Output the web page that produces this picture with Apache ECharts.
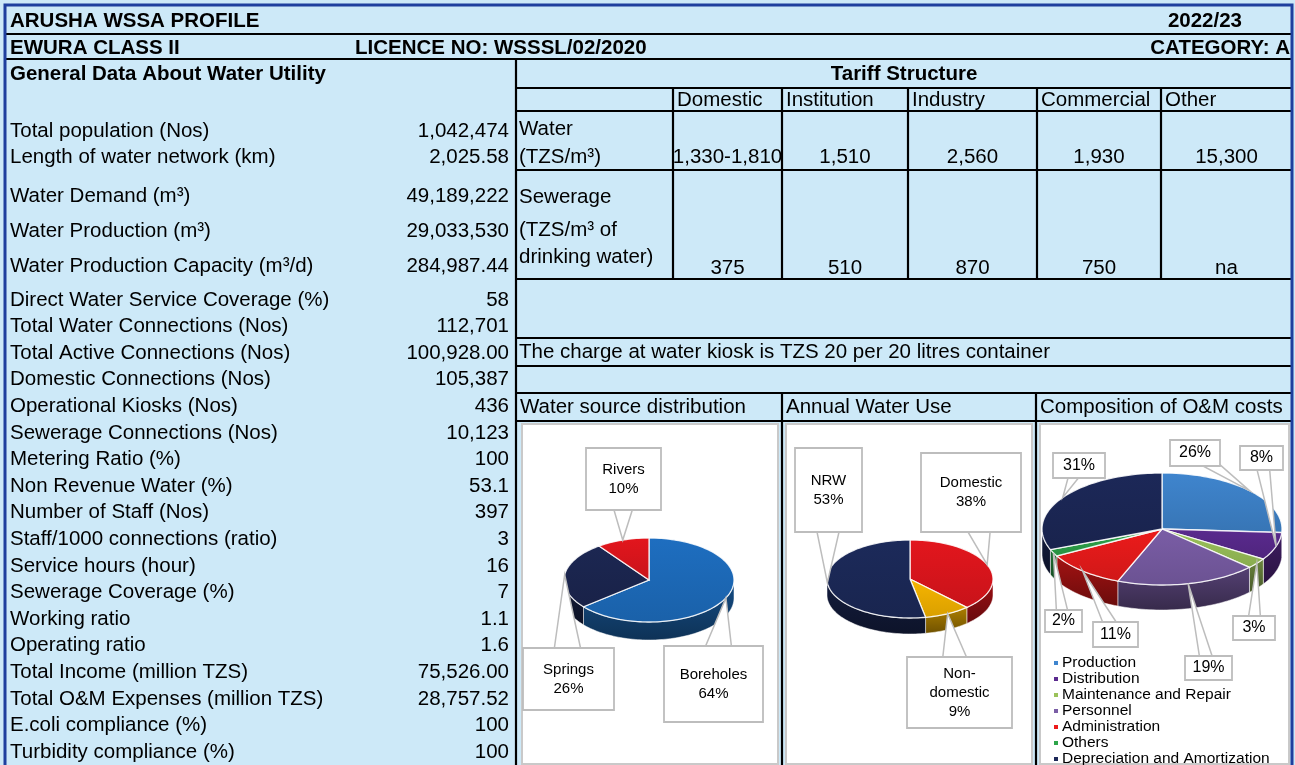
<!DOCTYPE html>
<html>
<head>
<meta charset="utf-8">
<script src="https://cdn.jsdelivr.net/npm/echarts@6/dist/echarts.min.js"></script>
<style>
  html, body { margin: 0; padding: 0; background: #cde9f8; }
  #chart { width: 1295px; height: 765px; }
</style>
</head>
<body>
<div id="chart"></div>
<script>
// ---- data read from the sheet ----
const generalLabels = [
  'Total population (Nos)', 'Length of water network (km)', 'Water Demand (m³)',
  'Water Production (m³)', 'Water Production Capacity (m³/d)', 'Direct Water Service Coverage (%)',
  'Total Water Connections (Nos)', 'Total Active Connections (Nos)', 'Domestic Connections (Nos)',
  'Operational Kiosks (Nos)', 'Sewerage Connections (Nos)', 'Metering Ratio (%)',
  'Non Revenue Water (%)', 'Number of Staff (Nos)', 'Staff/1000 connections (ratio)',
  'Service hours (hour)', 'Sewerage Coverage (%)', 'Working ratio', 'Operating ratio',
  'Total Income (million TZS)', 'Total O&M Expenses (million TZS)', 'E.coli compliance (%)',
  'Turbidity compliance (%)'
]
const generalValues = [
  '1,042,474', '2,025.58', '49,189,222', '29,033,530', '284,987.44', '58', '112,701',
  '100,928.00', '105,387', '436', '10,123', '100', '53.1', '397', '3', '16', '7', '1.1',
  '1.6', '75,526.00', '28,757.52', '100', '100'
]
const tariffCats = ['Domestic', 'Institution', 'Industry', 'Commercial', 'Other']
const waterTariff = ['1,330-1,810', '1,510', '2,560', '1,930', '15,300']
const sewerTariff = ['375', '510', '870', '750', 'na']

const sourceNames = ['Boreholes', 'Springs', 'Rivers']
const sourceShare = [64, 26, 10]
const useNames = ['Domestic', 'Non-\ndomestic', 'NRW']
const useShare = [38, 9, 53]
const costNames = ['Production', 'Distribution', 'Maintenance and Repair', 'Personnel',
  'Administration', 'Others', 'Depreciation and Amortization']
const costShare = [26, 8, 3, 19, 11, 2, 31]

// ---- layout ----
const FONT = '"Liberation Sans", Arial, sans-serif'
const F = 20.5
const rowY = [131, 157, 196, 231, 266]
for (let k = 0; k < 18; k++) rowY.push(300 + k * 26.6)
const colX = [673, 782, 908, 1037, 1161, 1292]

const els = []
function text(x, y, s, o) {
  o = o || {}
  els.push({
    type: 'text', x: x, y: y, z: 3,
    style: {
      text: s, fill: '#000',
      font: (o.bold ? 'bold ' : '') + (o.size || F) + 'px ' + FONT,
      align: o.align || 'left', textAlign: o.align || 'left',
      verticalAlign: 'middle', textVerticalAlign: 'middle'
    }
  })
}
function line(x1, y1, x2, y2, c, w) {
  els.push({ type: 'line', z: 2, shape: { x1, y1, x2, y2 }, style: { stroke: c || '#000', lineWidth: w || 2.2 } })
}

els.push({ type: 'rect', z: 0, shape: { x: 0, y: 0, width: 1295, height: 765 }, style: { fill: '#cde9f8' } })
// white pie panels
;[[522, 424, 256, 340], [786, 424, 246, 340], [1040, 424, 249, 340]].forEach(p => {
  els.push({ type: 'rect', z: 1, shape: { x: p[0], y: p[1], width: p[2], height: p[3] },
    style: { fill: '#fff', stroke: '#c9c9c9', lineWidth: 2 } })
})

// grid lines
line(5, 34, 1292, 34)
line(5, 59, 1292, 59)
line(516, 59, 516, 765)
;[88, 111, 170, 279, 338, 366, 393, 421].forEach(y => line(516, y, 1292, y))
colX.slice(0, 5).forEach(x => line(x, 88, x, 279))
line(782, 393, 782, 765)
line(1036, 393, 1036, 765)
// outer frame
els.push({ type: 'rect', z: 4, shape: { x: 5, y: 5, width: 1287, height: 800 },
  style: { fill: 'none', stroke: '#1f3f9e', lineWidth: 3 } })

// header
text(10, 21, 'ARUSHA WSSA PROFILE', { bold: true })
text(1242, 21, '2022/23', { bold: true, align: 'right' })
text(10, 48, 'EWURA CLASS II', { bold: true })
text(355, 48, 'LICENCE NO: WSSSL/02/2020', { bold: true })
text(1290, 48, 'CATEGORY: A', { bold: true, align: 'right' })
text(10, 74, 'General Data About Water Utility', { bold: true })
text(904, 74, 'Tariff Structure', { bold: true, align: 'center' })

// general data rows
generalLabels.forEach((s, i) => {
  text(10, rowY[i], s)
  text(509, rowY[i], generalValues[i], { align: 'right' })
})

// tariff table
tariffCats.forEach((s, i) => {
  const mid = (colX[i] + colX[i + 1]) / 2
  text(colX[i] + 4, 100, s)
  text(mid, 157, waterTariff[i], { align: 'center' })
  text(mid, 268, sewerTariff[i], { align: 'center' })
})
text(519, 129, 'Water')
text(519, 157, '(TZS/m³)')
text(519, 197, 'Sewerage')
text(519, 230, '(TZS/m³ of')
text(519, 257, 'drinking water)')
text(519, 352, 'The charge at water kiosk is TZS 20 per 20 litres container')
text(520, 407, 'Water source distribution')
text(786, 407, 'Annual Water Use')
text(1040, 407, 'Composition of O&M costs')

// ---- 3d-looking pies ----
function shade(hex, f) {
  const n = parseInt(hex.slice(1), 16)
  const r = Math.round(((n >> 16) & 255) * f), g = Math.round(((n >> 8) & 255) * f), b = Math.round((n & 255) * f)
  return 'rgb(' + r + ',' + g + ',' + b + ')'
}

function makePie(names, values, geo, colors, boxes, opts) {
  const total = values.reduce((a, b) => a + b, 0)
  const starts = []
  let acc = 0
  values.forEach(v => { starts.push(acc / total * Math.PI * 2); acc += v })
  const pt = (a, dy) => [geo.cx + geo.rx * Math.sin(a), geo.cy - geo.ry * Math.cos(a) + (dy || 0)]
  const arc = (a0, a1, dy) => {
    const n = Math.max(2, Math.ceil((a1 - a0) / 0.03))
    const r = []
    for (let k = 0; k <= n; k++) r.push(pt(a0 + (a1 - a0) * k / n, dy))
    return r
  }
  return {
    type: 'custom', coordinateSystem: 'none', z: 5, silent: true, animation: false,
    data: values.map((v, i) => ({ name: names[i], value: v })),
    renderItem(params, api) {
      const i = params.dataIndex
      const a0 = starts[i]
      const a1 = a0 + api.value(0) / total * Math.PI * 2
      const c = colors[i]
      const kids = []
      const s = Math.max(a0, Math.PI / 2), e = Math.min(a1, Math.PI * 1.5)
      if (e > s) {
        kids.push({
          type: 'polygon', z2: 1,
          shape: { points: arc(s, e, 0).concat(arc(s, e, geo.depth).reverse()) },
          style: {
            fill: { type: 'linear', x: 0, y: 0, x2: 0, y2: 1, colorStops: [
              { offset: 0, color: shade(c, 0.7) }, { offset: 1, color: shade(c, 0.45) }] },
            stroke: 'rgba(255,255,255,0.5)', lineWidth: 1
          }
        })
      }
      kids.push({
        type: 'polygon', z2: 5,
        shape: { points: [[geo.cx, geo.cy]].concat(arc(a0, a1, 0)) },
        style: {
          fill: { type: 'linear', x: 0, y: 0, x2: 0, y2: 1, colorStops: [
            { offset: 0, color: c }, { offset: 1, color: shade(c, 0.88) }] },
          stroke: 'rgba(255,255,255,0.85)', lineWidth: 1.3
        }
      })
      // callout box with wedge pointer
      const an = pt((a0 + a1) / 2, 0)
      const b = boxes[i]
      const bx = b[0] + b[2] / 2, by = b[1] + b[3] / 2
      const dx = an[0] - bx, dy = an[1] - by, len = Math.hypot(dx, dy) || 1
      const w = Math.min(b[2], b[3]) * 0.3
      const px = -dy / len * w, py = dx / len * w
      kids.push({
        type: 'polygon', z2: 20,
        shape: { points: [an, [bx + px, by + py], [bx - px, by - py]] },
        style: { fill: '#fff', stroke: '#bdbdbd', lineWidth: 1.5 }
      })
      kids.push({
        type: 'rect', z2: 21,
        shape: { x: b[0], y: b[1], width: b[2], height: b[3] },
        style: { fill: '#fff', stroke: '#bdbdbd', lineWidth: 1.8 }
      })
      const label = opts.nameInLabel ? names[i] + '\n' + api.value(0) + '%' : api.value(0) + '%'
      kids.push({
        type: 'text', z2: 22, x: bx, y: by,
        style: {
          text: label, fill: '#000', font: opts.labelSize + 'px ' + FONT, lineHeight: 19,
          align: 'center', textAlign: 'center', verticalAlign: 'middle', textVerticalAlign: 'middle'
        }
      })
      if (opts.legend) {
        const L = opts.legend
        const ly = L.y + i * L.step
        kids.push({ type: 'rect', z2: 22, shape: { x: L.x - 2, y: ly - 2, width: 4, height: 4 }, style: { fill: c } })
        kids.push({
          type: 'text', z2: 22, x: L.x + 6, y: ly,
          style: { text: names[i], fill: '#000', font: L.size + 'px ' + FONT,
            align: 'left', textAlign: 'left', verticalAlign: 'middle', textVerticalAlign: 'middle' }
        })
      }
      return { type: 'group', children: kids }
    }
  }
}

const chart = echarts.init(document.getElementById('chart'))
chart.setOption({
  animation: false,
  graphic: { elements: els },
  series: [
    makePie(sourceNames, sourceShare, { cx: 649, cy: 580, rx: 85, ry: 42, depth: 18 },
      ['#1e6ec0', '#1c2752', '#e3161d'],
      [[664, 646, 99, 76], [523, 648, 91, 62], [586, 448, 75, 62]],
      { nameInLabel: true, labelSize: 15 }),
    makePie(useNames, useShare, { cx: 910, cy: 579, rx: 83, ry: 39, depth: 16 },
      ['#e3161d', '#f7b500', '#1c2a5a'],
      [[921, 453, 100, 79], [907, 657, 105, 71], [795, 448, 67, 84]],
      { nameInLabel: true, labelSize: 15 }),
    makePie(costNames, costShare, { cx: 1162, cy: 529, rx: 120, ry: 56, depth: 25 },
      ['#3f85ce', '#5a2a8e', '#9bc25a', '#7a5da6', '#ec1b1b', '#2da44a', '#1c2858'],
      [[1170, 440, 50, 26], [1240, 446, 43, 24], [1233, 616, 42, 24], [1185, 656, 47, 24],
        [1093, 622, 45, 25], [1045, 610, 37, 22], [1053, 453, 52, 25]],
      { nameInLabel: false, labelSize: 16, legend: { x: 1056, y: 663, step: 16, size: 15.5 } })
  ]
})
</script>
</body>
</html>
